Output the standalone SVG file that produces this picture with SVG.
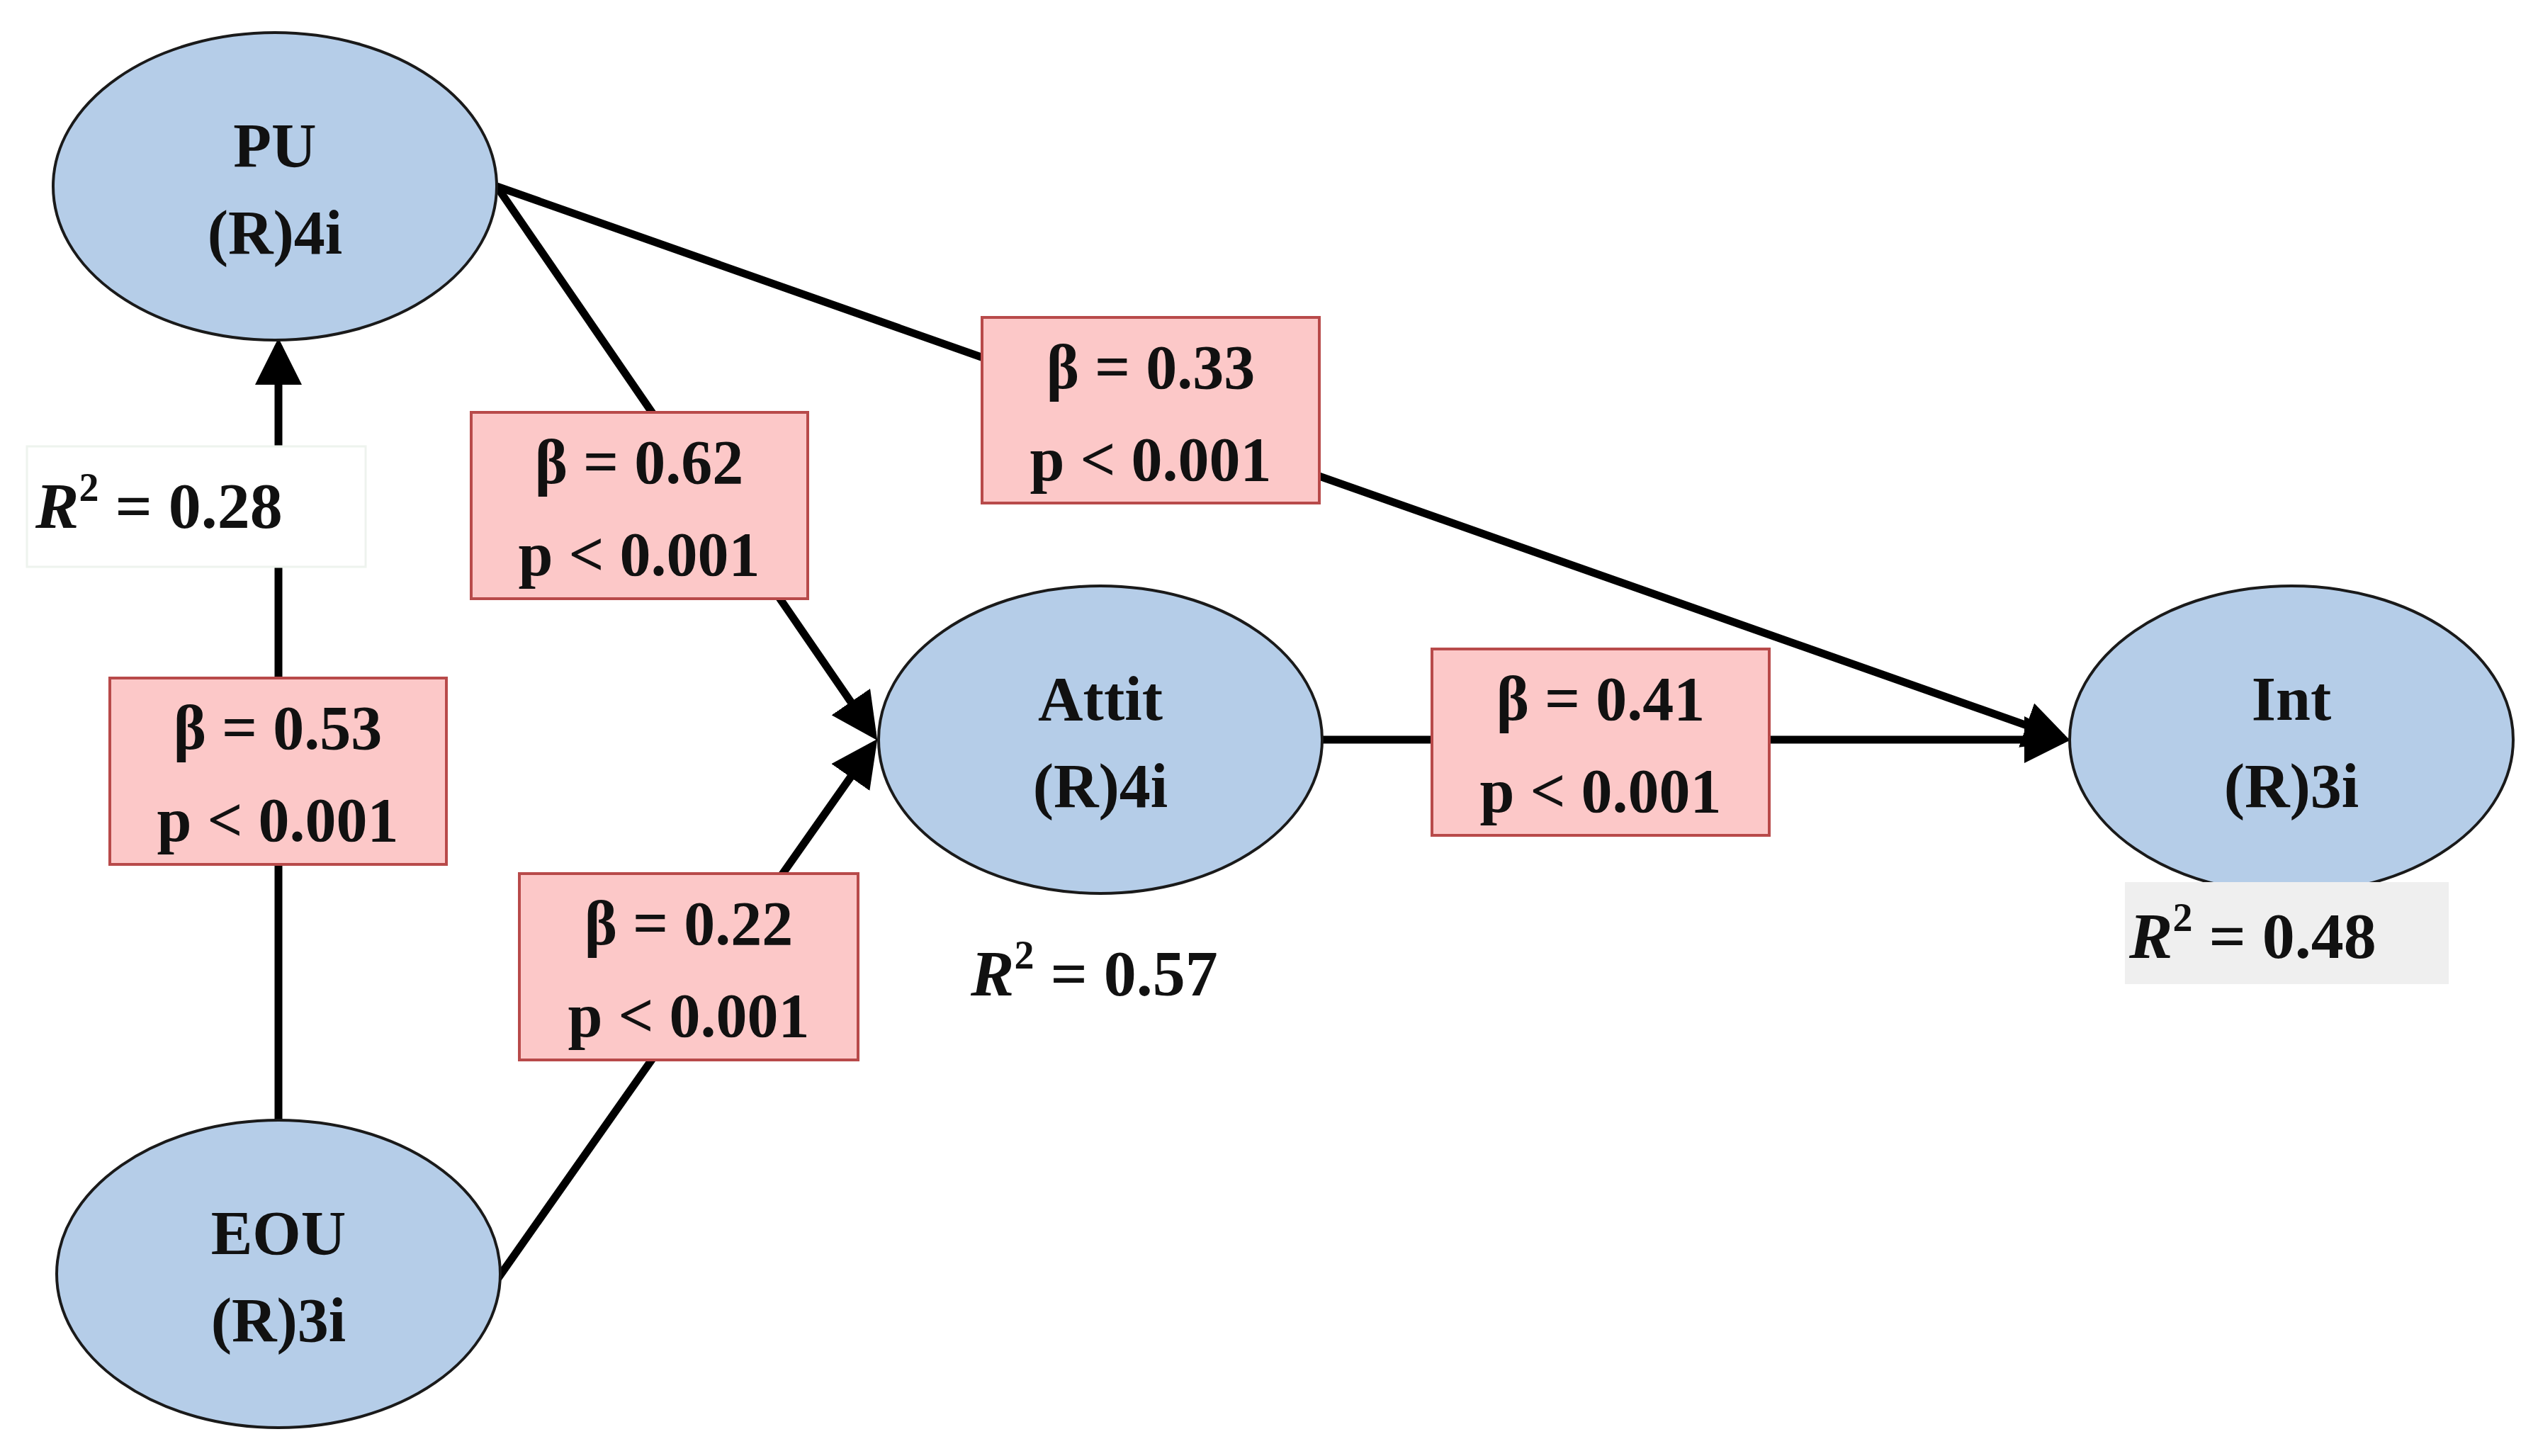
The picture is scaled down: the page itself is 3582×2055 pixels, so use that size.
<svg xmlns="http://www.w3.org/2000/svg" width="3582" height="2055" viewBox="0 0 3582 2055">
<style>
.n{fill:#b5cde8;stroke:#1a1a1a;stroke-width:4}
.b{fill:#fcc8c8;stroke:#b84a4a;stroke-width:4}
.t{font-family:"Liberation Serif",serif;font-weight:bold;font-size:88px;text-anchor:middle;fill:#111}
.r{font-family:"Liberation Serif",serif;font-weight:bold;font-size:92px;fill:#111}
.c{stroke:#000;stroke-width:11;fill:none}
</style>
<defs><marker id="a" markerWidth="6" markerHeight="6" refX="5" refY="3" orient="auto" markerUnits="strokeWidth"><path d="M0,0L6,3L0,6z" fill="#000"/></marker></defs>
<rect width="3582" height="2055" fill="#fff"/>
<g id="connectors">
<line class="c" x1="701" y1="263" x2="2912" y2="1042" marker-end="url(#a)"/>
<line class="c" x1="701" y1="263" x2="1232" y2="1036" marker-end="url(#a)"/>
<line class="c" x1="703" y1="1804" x2="1232" y2="1052" marker-end="url(#a)"/>
<line class="c" x1="393" y1="1583" x2="393" y2="488" marker-end="url(#a)"/>
<line class="c" x1="1862" y1="1044" x2="2912" y2="1044" marker-end="url(#a)"/>
</g>
<g id="PU"><ellipse class="n" cx="388" cy="263" rx="313" ry="217"/><text class="t" x="388" y="235">PU</text><text class="t" x="388" y="358">(R)4i</text></g>
<g id="EOU"><ellipse class="n" cx="393" cy="1798" rx="313" ry="217"/><text class="t" x="393" y="1770">EOU</text><text class="t" x="393" y="1893">(R)3i</text></g>
<g id="Attit"><ellipse class="n" cx="1553" cy="1044" rx="313" ry="217"/><text class="t" x="1553" y="1016">Attit</text><text class="t" x="1553" y="1139">(R)4i</text></g>
<g id="Int"><ellipse class="n" cx="3234" cy="1044" rx="313" ry="217"/><text class="t" x="3234" y="1016">Int</text><text class="t" x="3234" y="1139">(R)3i</text></g>
<g id="b033"><rect class="b" x="1386" y="448" width="476" height="262"/><text class="t" x="1624" y="548">β = 0.33</text><text class="t" x="1624" y="678">p &lt; 0.001</text></g>
<g id="b062"><rect class="b" x="665" y="582" width="475" height="263"/><text class="t" x="902" y="682">β = 0.62</text><text class="t" x="902" y="812">p &lt; 0.001</text></g>
<g id="b053"><rect class="b" x="155" y="957" width="475" height="263"/><text class="t" x="392" y="1057">β = 0.53</text><text class="t" x="392" y="1187">p &lt; 0.001</text></g>
<g id="b022"><rect class="b" x="733" y="1233" width="478" height="263"/><text class="t" x="972" y="1333">β = 0.22</text><text class="t" x="972" y="1463">p &lt; 0.001</text></g>
<g id="b041"><rect class="b" x="2021" y="916" width="476" height="263"/><text class="t" x="2259" y="1016">β = 0.41</text><text class="t" x="2259" y="1146">p &lt; 0.001</text></g>
<g id="r028"><rect x="38" y="630" width="478" height="170" fill="#fff" stroke="#eef3ee" stroke-width="3"/><text class="r" x="50" y="745"><tspan font-style="italic">R</tspan><tspan font-size="56" dy="-38">2</tspan><tspan dy="38"> = 0.28</tspan></text></g>
<g id="r057"><text class="r" x="1370" y="1405"><tspan font-style="italic">R</tspan><tspan font-size="56" dy="-38">2</tspan><tspan dy="38"> = 0.57</tspan></text></g>
<g id="r048"><rect x="2999" y="1245" width="457" height="144" fill="#efefef"/><text class="r" x="3005" y="1352"><tspan font-style="italic">R</tspan><tspan font-size="56" dy="-38">2</tspan><tspan dy="38"> = 0.48</tspan></text></g>
</svg>
